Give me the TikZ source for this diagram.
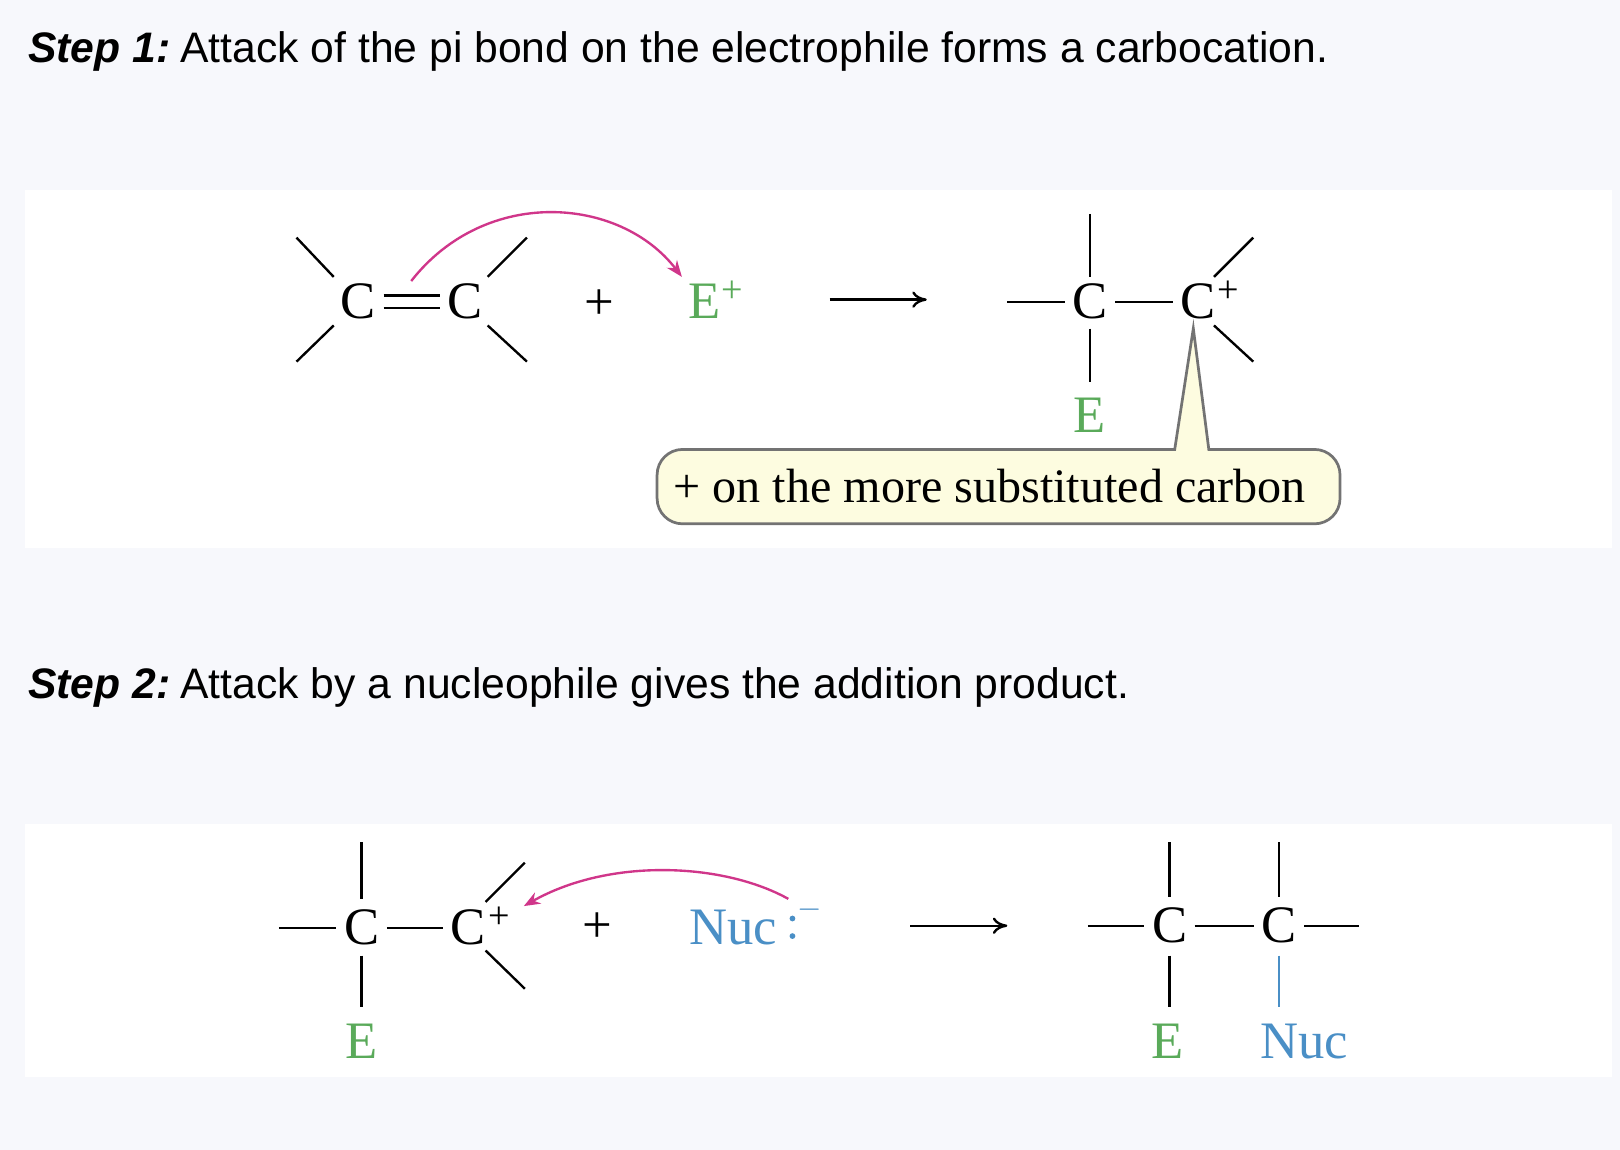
\documentclass[tikz,border=0pt]{standalone}
\usepackage{fontspec}
\setmainfont{Liberation Serif}
\setsansfont{Liberation Sans}
\usetikzlibrary{arrows.meta}
\definecolor{bg}{HTML}{F7F8FC}
\definecolor{egreen}{HTML}{5AAA5A}
\definecolor{nblue}{HTML}{4A8FC6}
\definecolor{amag}{HTML}{D0368A}
\definecolor{callfill}{HTML}{FDFCE0}
\begin{document}
\begin{tikzpicture}[x=0.02cm,y=-0.02cm]
\tikzstyle{atom}=[inner sep=4pt,font=\fontsize{29}{32}\selectfont]
\tikzstyle{sup}=[inner sep=0pt,font=\fontsize{21}{23}\selectfont]
\tikzstyle{bond}=[line width=1.3pt]
\tikzstyle{head}=[anchor=west,inner sep=0pt,font=\sffamily\fontsize{23.5}{26}\selectfont]
\tikzstyle{curly}=[amag,line width=1.3pt,-{Stealth[length=9pt,width=7pt]}]
\tikzstyle{rxn}=[line width=1.3pt,-{To[length=8pt,width=9pt]}]
\fill[bg] (0,0) rectangle (1568,1113);
\fill[white] (24,184) rectangle (1560,530);
\fill[white] (24,798) rectangle (1560,1042);
\node [head] (h1) at (27,50) {\textbf{\textit{Step 1:}}\kern-1pt\ Attack of the pi bond on the electrophile forms a carbocation.};
\node [head] (h2) at (27,665) {\textbf{\textit{Step 2:}}\kern-1pt\ Attack by a nucleophile gives the addition product.};
% step 1, alkene + E+
\node [atom] (a1) at (347,292) {C};
\node [atom] (a2) at (450,292) {C};
\draw [bond] ([shift={(0,-6)}]a1.east) -- ([shift={(0,-6)}]a2.west);
\draw [bond] ([shift={(0,6)}]a1.east) -- ([shift={(0,6)}]a2.west);
\draw [bond] (287,230) -- (323,268);
\draw [bond] (287,350) -- (323,315);
\draw [bond] (472,268) -- (510,230);
\draw [bond] (472,315) -- (510,350);
\node [atom] (plus1) at (580,295) {+};
\node [atom,text=egreen] (ep) at (682,292) {E};
\node [sup,text=egreen] (epp) at (709,282) {+};
\coordinate (pi) at (398,272);
\draw [curly] (pi) .. controls (470,180) and (600,190) .. (660,268);
\coordinate (r1a) at (803,290);
\coordinate (r1b) at (897,290);
\draw [rxn] (r1a) -- (r1b);
% carbocation
\node [atom] (b1) at (1055,292) {C};
\node [atom] (b2) at (1160,292) {C};
\node [sup] (b2p) at (1189,282) {+};
\node [atom,text=egreen] (be) at (1055,402) {E};
\draw [bond] (975,292) -- (b1.west);
\draw [bond] (1055,207) -- (1055,268);
\draw [bond] (1055,318) -- (1055,370);
\draw [bond] (b1.east) -- (b2.west);
\draw [bond] (1175,268) -- (1213,230);
\draw [bond] (1175,315) -- (1213,350);
\draw [gray!90!black,line width=1.5pt,fill=callfill]
  (1137,435) -- (1155,318) -- (1170,435) [rounded corners=14pt] -- (1297,435) -- (1297,507) -- (636,507) -- (636,435) [sharp corners] -- cycle;
\node [inner sep=0pt,font=\fontsize{26.5}{30}\selectfont] (note) at (958,470) {+ on the more substituted carbon};
% step 2
\node [atom] (c1) at (350,898) {C};
\node [atom] (c2) at (453,898) {C};
\node [sup] (c2p) at (483,888) {+};
\node [atom,text=egreen] (ce) at (350,1008) {E};
\draw [bond] (270,898) -- (c1.west);
\draw [bond] (350,815) -- (350,870);
\draw [bond] (350,925) -- (350,975);
\draw [bond] (c1.east) -- (c2.west);
\draw [bond] (470,873) -- (508,835);
\draw [bond] (470,920) -- (508,957);
\node [atom] (plus2) at (578,898) {+};
\node [atom,text=nblue,anchor=west] (nuc) at (660,898) {Nuc};
\fill [nblue] (767,889) circle (2.8) (767,906) circle (2.8);
\node [inner sep=0pt,text=nblue,font=\fontsize{18}{20}\selectfont] (neg) at (784,880) {$-$};
\coordinate (lp) at (763,870);
\draw [curly] (lp) .. controls (700,835) and (590,830) .. (507,877);
\coordinate (r2a) at (881,896);
\coordinate (r2b) at (975,896);
\draw [rxn] (r2a) -- (r2b);
% addition product
\node [atom] (d1) at (1132,896) {C};
\node [atom] (d2) at (1238,896) {C};
\node [atom,text=egreen] (de) at (1130,1008) {E};
\node [atom,text=nblue] (dn) at (1262,1008) {Nuc};
\draw [bond] (1053,896) -- (d1.west);
\draw [bond] (d1.east) -- (d2.west);
\draw [bond] (d2.east) -- (1315,896);
\draw [bond] (1132,815) -- (1132,868);
\draw [bond] (1238,815) -- (1238,868);
\draw [bond] (1132,925) -- (1132,975);
\draw [bond,nblue] (1238,925) -- (1238,975);
\end{tikzpicture}
\end{document}
